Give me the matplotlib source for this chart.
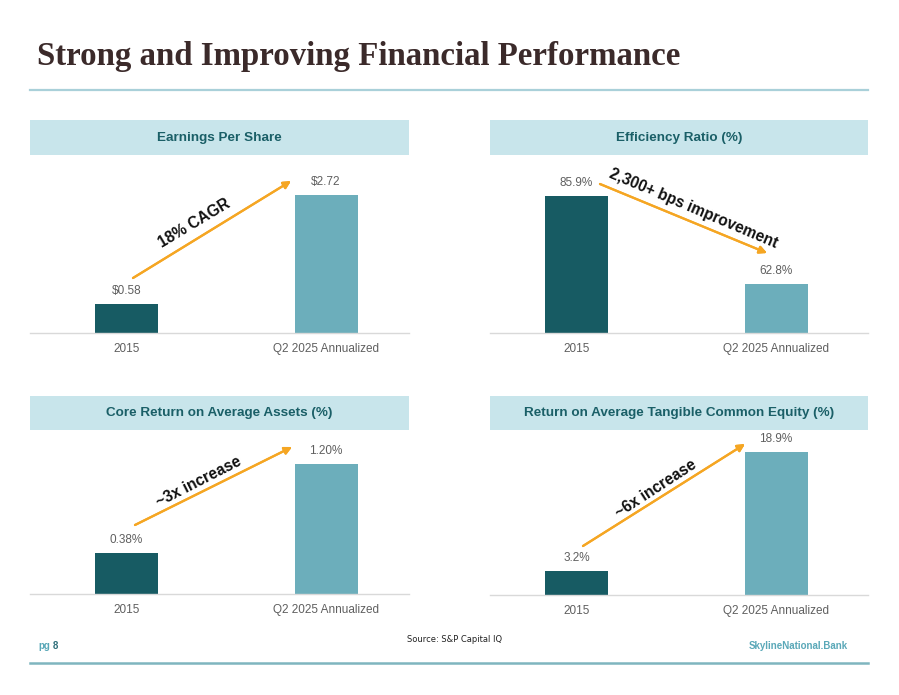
import matplotlib.pyplot as plt
from matplotlib.patches import Rectangle
from matplotlib.lines import Line2D

plt.rcParams["font.family"] = ["Liberation Sans", "DejaVu Sans"]

# data
categories = ["2015", "Q2 2025 Annualized"]
eps = [0.58, 2.72]
eps_labels = ["$0.58", "$2.72"]
efficiency = [85.9, 62.8]
efficiency_labels = ["85.9%", "62.8%"]
core_roaa = [0.38, 1.20]
core_roaa_labels = ["0.38%", "1.20%"]
rotce = [3.2, 18.9]
rotce_labels = ["3.2%", "18.9%"]

W, H = 899, 695
DARK = "#175b63"
LIGHT = "#6caebb"
HEAD_BG = "#c8e5eb"
HEAD_TX = "#1a5f67"
GRAY = "#5f5f5f"
ORANGE = "#f5a623"

fig = plt.figure(figsize=(W / 100, H / 100), dpi=100)
fig.patch.set_facecolor("white")


def fx(x):
    return x / W


def fy(y):
    return 1 - y / H


def pbox(x0, y0, x1, y1):
    # pixel box (top-left origin) -> figure rect
    return [fx(x0), fy(y1), fx(x1) - fx(x0), (y1 - y0) / H]


# title + rules
fig.text(fx(37), fy(56), "Strong and Improving Financial Performance", family="Liberation Serif",
         weight="bold", fontsize=23.7, color="#3b2a2a", va="center", ha="left")
fig.add_artist(Line2D([fx(30), fx(868)], [fy(90), fy(90)], color="#a9d0d9", lw=1.6))
fig.add_artist(Line2D([fx(30), fx(868)], [fy(663), fy(663)], color="#7fb5bf", lw=1.8))

# footer
fig.text(fx(38), fy(646), "pg", color="#5aa8b8", fontsize=7, weight="bold", va="center")
fig.text(fx(53), fy(646), "8", color="#2f6f7a", fontsize=7, weight="bold", va="center")
fig.text(fx(455), fy(640), "Source: S&P Capital IQ", fontsize=6, color="#222222", ha="center",
         va="center", family="Liberation Sans Narrow")
fig.text(fx(848), fy(646), "SkylineNational.Bank", color="#5aa8b8", fontsize=7, weight="bold",
         ha="right", va="center")

panels = [
    # title, values, labels, header box, axes box, ylim, bar centers (px), arrow, note
    ("Earnings Per Share", eps, eps_labels, (30, 120, 409, 155), (30, 160, 409, 333), (0, 3.41),
     (126.5, 326), ((133, 278), (291, 181)), ("18% CAGR", (194, 223), 31)),
    ("Efficiency Ratio (%)", efficiency, efficiency_labels, (490, 120, 868, 155), (490, 160, 868, 333),
     (50, 95.3), (576.5, 776), ((600, 184), (767, 253)), ("2,300+ bps improvement", (693, 209), -23)),
    ("Core Return on Average Assets (%)", core_roaa, core_roaa_labels, (30, 396, 409, 430),
     (30, 436, 409, 594), (0, 1.459), (126.5, 326), ((135, 525), (292, 447)),
     ("~3x increase", (199, 482), 27)),
    ("Return on Average Tangible Common Equity (%)", rotce, rotce_labels, (490, 396, 868, 430),
     (490, 436, 868, 595), (0, 21.0), (576.5, 776), ((583, 546), (745, 444)),
     ("~6x increase", (656, 489), 33)),
]

for title, vals, labs, hb, ab, ylim, cx, arrow, note in panels:
    # header band
    fig.add_artist(Rectangle((fx(hb[0]), fy(hb[3])), fx(hb[2]) - fx(hb[0]), (hb[3] - hb[1]) / H,
                             transform=fig.transFigure, facecolor=HEAD_BG, edgecolor="none"))
    fig.text((fx(hb[0]) + fx(hb[2])) / 2, fy((hb[1] + hb[3]) / 2), title, ha="center", va="center",
             fontsize=9.7, weight="bold", color=HEAD_TX)

    ax = fig.add_axes(pbox(*ab))
    span = ab[2] - ab[0]
    # place categories 0 and 1 at the bar centres
    scale = (cx[1] - cx[0])
    x0 = -(cx[0] - ab[0]) / scale
    x1 = x0 + span / scale
    ax.set_xlim(x0, x1)
    ax.set_ylim(*ylim)
    bw = 63 / scale
    bars = ax.bar([0, 1], [v - ylim[0] for v in vals], bottom=ylim[0], width=bw,
                  color=[DARK, LIGHT])
    for b, lab in zip(bars, labs):
        ax.annotate(lab, (b.get_x() + b.get_width() / 2, b.get_y() + b.get_height()),
                    xytext=(0, 5), textcoords="offset points", ha="center", va="bottom",
                    fontsize=8.5, color=GRAY)
    for s in ["top", "right", "left"]:
        ax.spines[s].set_visible(False)
    ax.spines["bottom"].set_color("#d9d9d9")
    ax.spines["bottom"].set_linewidth(1)
    ax.set_yticks([])
    ax.set_xticks([0, 1], categories)
    ax.tick_params(axis="x", length=0, pad=7, labelsize=8.5, labelcolor=GRAY)
    ax.patch.set_alpha(0)

    (sx, sy), (ex, ey) = arrow
    fig.add_artist(plt.annotate("", xy=(fx(ex), fy(ey)), xytext=(fx(sx), fy(sy)),
                                xycoords="figure fraction", textcoords="figure fraction",
                                arrowprops=dict(arrowstyle="-|>", color=ORANGE, lw=1.6,
                                                mutation_scale=11, shrinkA=0, shrinkB=0)))
    txt, (tx, ty), rot = note
    fig.text(fx(tx), fy(ty), txt, rotation=rot, rotation_mode="anchor", ha="center", va="center",
             fontsize=11.2, weight="bold", color="#111111")

fig.savefig("out.png", dpi=100)
